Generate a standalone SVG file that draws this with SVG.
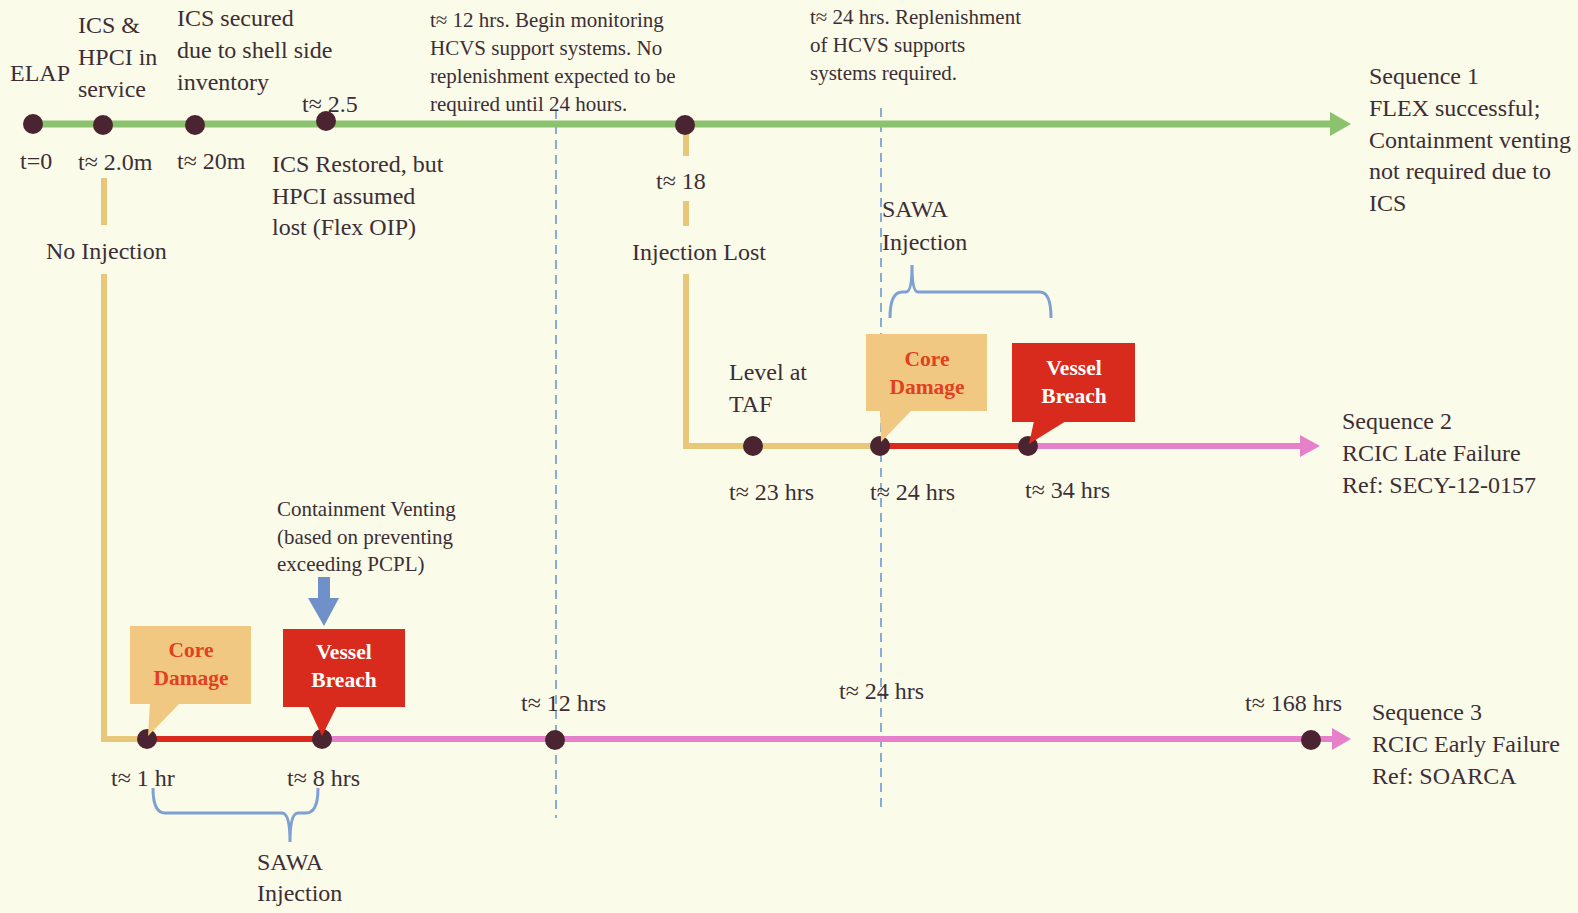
<svg xmlns="http://www.w3.org/2000/svg" width="1578" height="913" viewBox="0 0 1578 913">
<style>
text{font-family:"Liberation Serif","Times New Roman",serif;fill:#3d2e36;}
.t22{font-size:24px;}
.t19{font-size:21px;}
.bl{font-size:21.5px;font-weight:bold;text-anchor:middle;}
.dot{fill:#4a2430;}
.grn{stroke:#8bc26e;stroke-width:7;fill:none;}
.yel{stroke:#e8c77a;stroke-width:6;fill:none;}
.red{stroke:#d92b1d;stroke-width:6;fill:none;}
.pnk{stroke:#e680cb;stroke-width:6;fill:none;}
.dash{stroke:#6a9ad2;stroke-width:1.6;stroke-dasharray:9 6;fill:none;}
.brace{stroke:#7ea0d4;stroke-width:3;fill:none;}
</style>
<rect width="1578" height="913" fill="#fafbe8"/>
<g id="connectors">
<line class="dash" x1="556" y1="110" x2="556" y2="818"/>
<line class="dash" x1="881" y1="108" x2="881" y2="812"/>
<line class="grn" x1="33" y1="124" x2="1332" y2="124"/>
<polygon points="1330,112 1351,124 1330,136" fill="#8bc26e"/>
<line class="yel" x1="104" y1="178" x2="104" y2="225"/>
<polyline class="yel" points="104,274 104,739 148,739"/>
<line class="yel" x1="686" y1="126" x2="686" y2="156"/>
<line class="yel" x1="686" y1="201" x2="686" y2="226"/>
<polyline class="yel" points="686,274 686,446 880,446"/>
<line class="red" x1="880" y1="446" x2="1028" y2="446"/>
<line class="pnk" x1="1028" y1="446" x2="1302" y2="446"/>
<polygon points="1300,435 1320,446 1300,457" fill="#e680cb"/>
<line class="red" x1="148" y1="739" x2="322" y2="739"/>
<line class="pnk" x1="322" y1="739" x2="1334" y2="739"/>
<polygon points="1332,728 1351,739 1332,750" fill="#e680cb"/>
<path class="brace" d="M890,318 Q890,292 902,292 L906,292 Q912,292 912,265 Q912,292 918,292 L1040,292 Q1051,292 1051,318"/>
<path class="brace" d="M153,788 Q153,813 165,813 L282,813 Q290,813 290,842 Q290,813 298,813 L306,813 Q318,813 318,788"/>
<polygon points="318,577 330,577 330,598 339,598 324,626 308,598 318,598" fill="#6f90c9"/>
</g>
<g id="seq1">
<circle class="dot" cx="33" cy="124" r="10"/>
<circle class="dot" cx="103" cy="125" r="10"/>
<circle class="dot" cx="195" cy="125" r="10"/>
<circle class="dot" cx="326" cy="121" r="10"/>
<circle class="dot" cx="685" cy="125" r="10"/>
<text class="t22" x="10" y="81">ELAP</text>
<text class="t22" x="78" y="33">ICS &amp;</text>
<text class="t22" x="78" y="65">HPCI in</text>
<text class="t22" x="78" y="97">service</text>
<text class="t22" x="177" y="26">ICS secured</text>
<text class="t22" x="177" y="58">due to shell side</text>
<text class="t22" x="177" y="90">inventory</text>
<text class="t22" x="302" y="112">t≈ 2.5</text>
<text class="t19" x="430" y="27">t≈ 12 hrs. Begin monitoring</text>
<text class="t19" x="430" y="55">HCVS support systems.  No</text>
<text class="t19" x="430" y="83">replenishment expected to be</text>
<text class="t19" x="430" y="111">required until 24 hours.</text>
<text class="t19" x="810" y="24">t≈ 24 hrs. Replenishment</text>
<text class="t19" x="810" y="52">of HCVS supports</text>
<text class="t19" x="810" y="80">systems required.</text>
<text class="t22" x="1369" y="84">Sequence 1</text>
<text class="t22" x="1369" y="116">FLEX successful;</text>
<text class="t22" x="1369" y="148">Containment venting</text>
<text class="t22" x="1369" y="179">not required due to</text>
<text class="t22" x="1369" y="211">ICS</text>
<text class="t22" x="20" y="169">t=0</text>
<text class="t22" x="78" y="170">t≈ 2.0m</text>
<text class="t22" x="177" y="169">t≈ 20m</text>
<text class="t22" x="272" y="172">ICS Restored, but</text>
<text class="t22" x="272" y="204">HPCI assumed</text>
<text class="t22" x="272" y="235">lost (Flex OIP)</text>
<text class="t22" x="656" y="189">t≈ 18</text>
<text class="t22" x="46" y="259">No Injection</text>
<text class="t22" x="632" y="260">Injection Lost</text>
</g>
<g id="seq2">
<circle class="dot" cx="753" cy="446" r="10"/>
<circle class="dot" cx="880" cy="446" r="10"/>
<circle class="dot" cx="1028" cy="446" r="10"/>
<text class="t22" x="882" y="217">SAWA</text>
<text class="t22" x="882" y="250">Injection</text>
<text class="t22" x="729" y="380">Level at</text>
<text class="t22" x="729" y="412">TAF</text>
<text class="t22" x="729" y="500">t≈ 23 hrs</text>
<text class="t22" x="870" y="500">t≈ 24 hrs</text>
<text class="t22" x="1025" y="498">t≈ 34 hrs</text>
<text class="t22" x="1342" y="429">Sequence 2</text>
<text class="t22" x="1342" y="461">RCIC Late Failure</text>
<text class="t22" x="1342" y="493">Ref: SECY-12-0157</text>
</g>
<g id="cd2">
<rect x="866" y="334" width="121" height="77" fill="#f0c882"/>
<polygon points="880,410 912,410 881,442" fill="#f0c882"/>
<text class="bl" x="927" y="366" style="fill:#e2401f">Core</text>
<text class="bl" x="927" y="394" style="fill:#e2401f">Damage</text>
</g>
<g id="vb2">
<rect x="1012" y="343" width="123" height="79" fill="#d92b1d"/>
<polygon points="1034,421 1066,421 1029,444" fill="#d92b1d"/>
<text class="bl" x="1074" y="375" style="fill:#fff">Vessel</text>
<text class="bl" x="1074" y="403" style="fill:#fff">Breach</text>
</g>
<g id="seq3">
<circle class="dot" cx="147" cy="739" r="10"/>
<circle class="dot" cx="322" cy="739" r="10"/>
<circle class="dot" cx="555" cy="740" r="10"/>
<circle class="dot" cx="1311" cy="740" r="10"/>
<text class="t19" x="277" y="516">Containment Venting</text>
<text class="t19" x="277" y="544">(based on preventing</text>
<text class="t19" x="277" y="571">exceeding PCPL)</text>
<text class="t22" x="521" y="711">t≈ 12 hrs</text>
<text class="t22" x="839" y="699">t≈ 24 hrs</text>
<text class="t22" x="1245" y="711">t≈ 168 hrs</text>
<text class="t22" x="1372" y="720">Sequence 3</text>
<text class="t22" x="1372" y="752">RCIC Early Failure</text>
<text class="t22" x="1372" y="784">Ref: SOARCA</text>
<text class="t22" x="111" y="786">t≈ 1 hr</text>
<text class="t22" x="287" y="786">t≈ 8 hrs</text>
<text class="t22" x="257" y="870">SAWA</text>
<text class="t22" x="257" y="901">Injection</text>
</g>
<g id="cd3">
<rect x="130" y="626" width="121" height="78" fill="#f0c882"/>
<polygon points="150,703 180,703 148,736" fill="#f0c882"/>
<text class="bl" x="191" y="657" style="fill:#e2401f">Core</text>
<text class="bl" x="191" y="685" style="fill:#e2401f">Damage</text>
</g>
<g id="vb3">
<rect x="283" y="629" width="122" height="78" fill="#d92b1d"/>
<polygon points="308,706 337,706 322,736" fill="#d92b1d"/>
<text class="bl" x="344" y="659" style="fill:#fff">Vessel</text>
<text class="bl" x="344" y="687" style="fill:#fff">Breach</text>
</g>
</svg>
